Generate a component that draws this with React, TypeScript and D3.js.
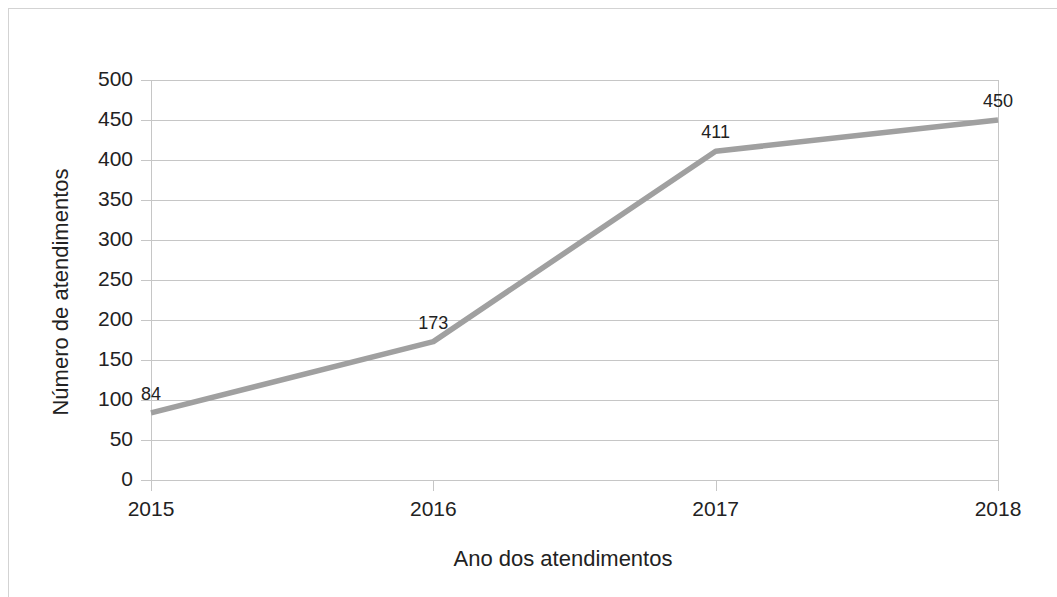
import React from "react";
import * as d3 from "d3";

const categories = ["2015", "2016", "2017", "2018"];
const values = [84, 173, 411, 450];
const yTicks = [0, 50, 100, 150, 200, 250, 300, 350, 400, 450, 500];

export default function App() {
  const W = 1057, H = 597;
  const left = 151, right = 998, top = 80, bottom = 480;
  const x = d3.scalePoint<string>().domain(categories).range([left, right]);
  const y = d3.scaleLinear().domain([0, 500]).range([bottom, top]);
  const line = d3.line<number>().x((_, i) => x(categories[i])!).y(d => y(d));
  const font = "'Liberation Sans', Arial, sans-serif";
  const grid = "#c6c6c6";
  const r = (v: number) => Math.round(v) + 0.5;
  return (
    <svg width={W} height={H} style={{ position: "absolute", left: 0, top: 0 }} fontFamily={font}>
      <rect x={0} y={0} width={W} height={H} fill="#fff" />
      <rect x={8.5} y={8.5} width={W + 10} height={H + 10} fill="none" stroke="#d3d3d3" strokeWidth={1} />
      {yTicks.map(t => (
        <g key={t}>
          <line x1={left - 10} x2={right} y1={r(y(t))} y2={r(y(t))} stroke={grid} />
          <text x={133} y={y(t) + 6} textAnchor="end" fontSize={21} fill="#222">{t}</text>
        </g>
      ))}
      <line x1={r(left)} x2={r(left)} y1={top} y2={bottom} stroke={grid} />
      <line x1={r(right)} x2={r(right)} y1={top} y2={bottom} stroke={grid} />
      {categories.map(c => (
        <g key={c}>
          <line x1={r(x(c)!)} x2={r(x(c)!)} y1={bottom} y2={bottom + 11} stroke={grid} />
          <text x={x(c)!} y={516} textAnchor="middle" fontSize={21} fill="#222">{c}</text>
        </g>
      ))}
      <path d={line(values)!} fill="none" stroke="#a0a0a0" strokeWidth={5.5} strokeLinejoin="round" />
      {values.map((v, i) => (
        <text key={i} x={x(categories[i])!} y={y(v) - 13} textAnchor="middle" fontSize={18} fill="#222">{v}</text>
      ))}
      <text x={563} y={566} textAnchor="middle" fontSize={22} fill="#222">Ano dos atendimentos</text>
      <text transform={`translate(68,292) rotate(-90)`} textAnchor="middle" fontSize={22} fill="#222">Número de atendimentos</text>
    </svg>
  );
}
